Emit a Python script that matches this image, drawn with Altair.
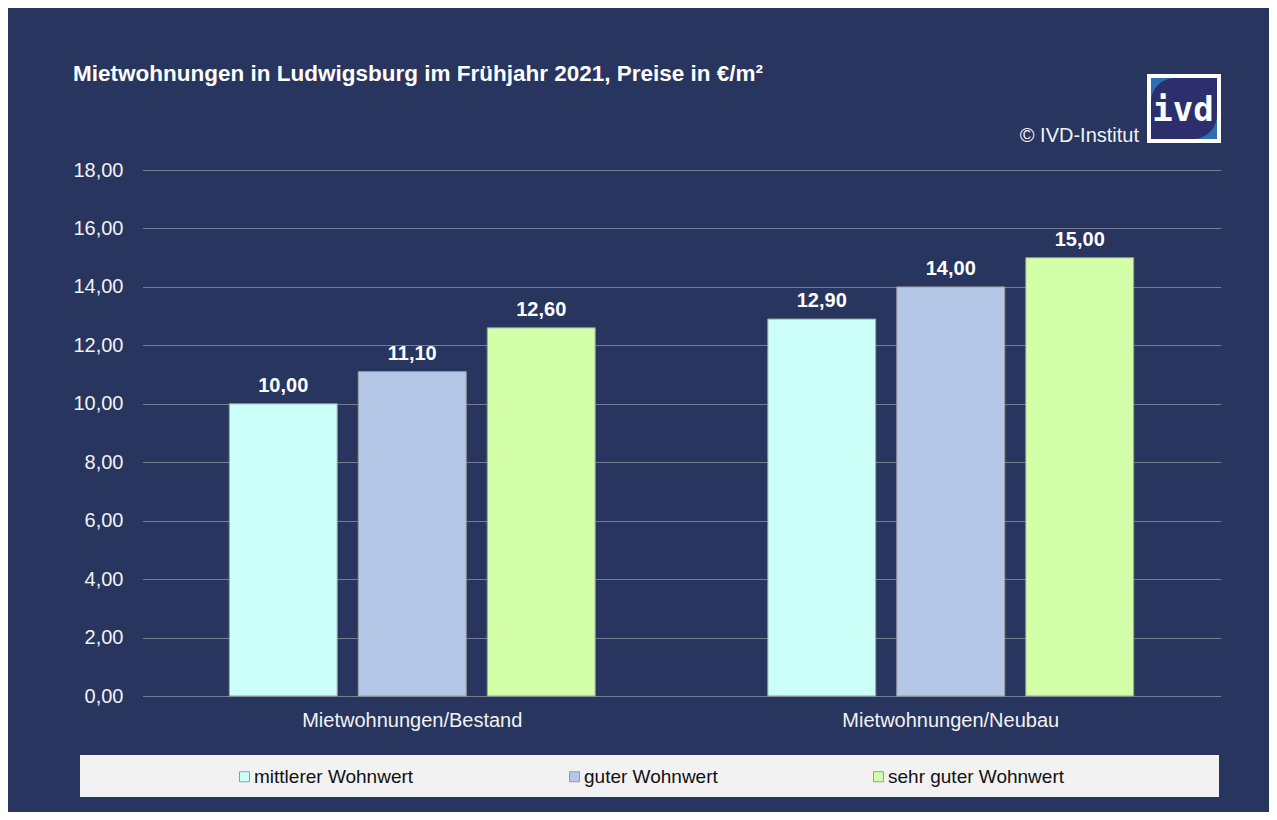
import altair as alt
import pandas as pd

categories = ["Mietwohnungen/Bestand", "Mietwohnungen/Neubau"]
series = ["mittlerer Wohnwert", "guter Wohnwert", "sehr guter Wohnwert"]
bestand = [10.00, 11.10, 12.60]
neubau = [12.90, 14.00, 15.00]
colors = ["#CCFFF8", "#B4C7E7", "#D2FFA8"]
y_ticks = [0, 2, 4, 6, 8, 10, 12, 14, 16, 18]

title_text = "Mietwohnungen in Ludwigsburg im Frühjahr 2021, Preise in €/m²"
source_text = "© IVD-Institut"
logo_text = "ivd"

rows = []
for cat, vals in zip(categories, [bestand, neubau]):
    for s, v in zip(series, vals):
        rows.append({"Kategorie": cat, "Wohnwert": s, "Preis": v})
df = pd.DataFrame(rows)
one = pd.DataFrame({"a": [0]})

NAVY = "#27355F"
FONT = "Liberation Sans"
LIGHT = "#F2F2F2"

x = alt.X("Kategorie:N", sort=categories,
          scale=alt.Scale(paddingInner=0, paddingOuter=0),
          axis=alt.Axis(title=None, domain=False, ticks=False, labelPadding=14,
                        labelFontSize=20, labelColor=LIGHT, labelFont=FONT, labelAngle=0,
                        labelLimit=500))
xo = alt.XOffset("Wohnwert:N", sort=series,
                 scale=alt.Scale(paddingInner=0.163, paddingOuter=0.669))
y = alt.Y("Preis:Q", scale=alt.Scale(domain=[0, 18], nice=False),
          axis=alt.Axis(title=None, values=y_ticks, domain=False, ticks=False,
                        labelPadding=20, labelFontSize=20, labelColor=LIGHT, labelFont=FONT,
                        labelExpr="replace(format(datum.value, '.2f'), '.', ',')",
                        grid=True, gridColor="#C8C8C8", gridDash=[1, 1], gridWidth=1))
color = alt.Color("Wohnwert:N", sort=series,
                  scale=alt.Scale(domain=series, range=colors),
                  legend=alt.Legend(title=None, orient="none", legendX=92, legendY=597,
                                    direction="horizontal", symbolType="square", symbolSize=100,
                                    symbolStrokeColor="#9A9A9A", symbolStrokeWidth=1,
                                    symbolOpacity=1, labelLimit=500,
                                    labelFontSize=19, labelFont=FONT, labelColor="#111111",
                                    labelOffset=0, columnPadding=151, padding=0))

legend_box = alt.Chart(one).mark_rect(color="#F2F2F2").encode(
    x=alt.value(-63), x2=alt.value(1076), y=alt.value(585), y2=alt.value(627))

bars = alt.Chart(df).mark_bar(stroke="#9A9A9A", strokeWidth=1, opacity=1).encode(
    x=x, xOffset=xo, y=y, color=color)

labels = alt.Chart(df).transform_calculate(
    label="replace(format(datum.Preis, '.2f'), '.', ',')"
).mark_text(dy=-12, baseline="alphabetic", fontWeight="bold", fontSize=20,
            color="white", font=FONT).encode(
    x=x, xOffset=xo, y=y, text="label:N")

title = alt.Chart(one).mark_text(text=title_text, align="left", baseline="alphabetic",
                                 fontWeight="bold", fontSize=22.5, color="white", font=FONT).encode(
    x=alt.value(-70), y=alt.value(-89))

source = alt.Chart(one).mark_text(text=source_text, align="right", baseline="alphabetic",
                                  fontSize=20, color=LIGHT, font=FONT).encode(
    x=alt.value(996), y=alt.value(-28))

logo_white = alt.Chart(one).mark_rect(color="white").encode(
    x=alt.value(1004), x2=alt.value(1078), y=alt.value(-96), y2=alt.value(-27))
logo_blue = alt.Chart(one).mark_rect(color="#2F6DB2").encode(
    x=alt.value(1008), x2=alt.value(1074), y=alt.value(-92), y2=alt.value(-31))
logo_navy = alt.Chart(one).mark_rect(color="#2C2F6C", cornerRadiusTopLeft=24,
                                     cornerRadiusBottomRight=24).encode(
    x=alt.value(1008), x2=alt.value(1074), y=alt.value(-92), y2=alt.value(-31))
logo_txt = alt.Chart(one).mark_text(text=logo_text, align="center", baseline="alphabetic",
                                    fontWeight="bold", fontSize=34, color="white",
                                    font="DejaVu Sans Mono").encode(
    x=alt.value(1040), y=alt.value(-49))

chart = alt.layer(legend_box, bars, labels, title, source,
                  logo_white, logo_blue, logo_navy, logo_txt).properties(
    width=1077, height=526,
    autosize=alt.AutoSizeParams(type="none"),
    padding={"left": 135, "top": 162, "right": 49, "bottom": 116},
    background=NAVY,
).configure_view(stroke=None)

chart.save("out.html", embed_options={"renderer": "svg", "actions": False})
